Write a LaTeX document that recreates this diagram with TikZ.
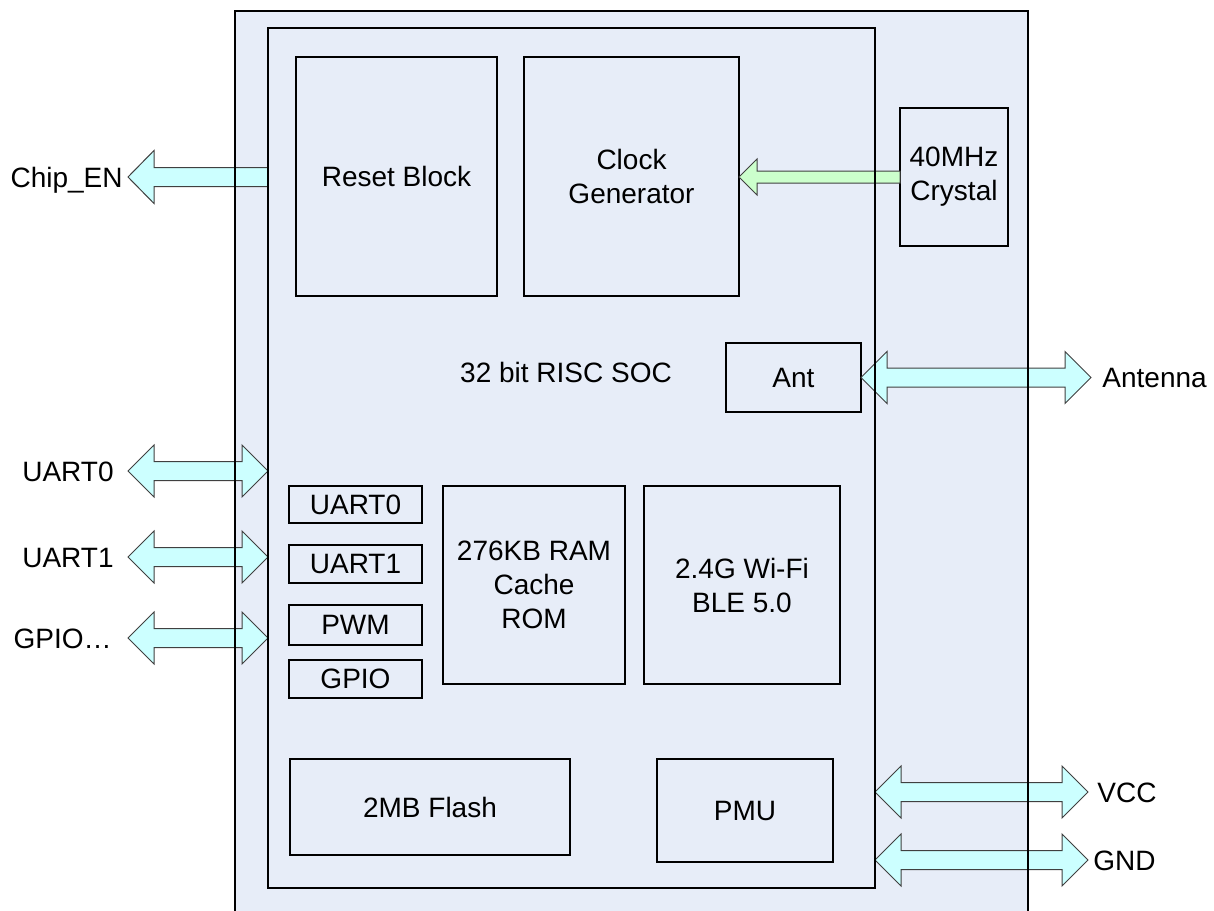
\documentclass[tikz,border=0pt]{standalone}
\usepackage{fontspec}
\setmainfont{Liberation Sans}
\usetikzlibrary{positioning,calc}
\definecolor{chipfill}{HTML}{E7EDF8}
\definecolor{busfill}{HTML}{CCFFFF}
\definecolor{clkfill}{HTML}{CCFFCC}

% horizontal block arrow with two heads: #1 left tip, #2 right tip
\newcommand{\dblarrow}[2]{%
  \path[busarrow] let \p1=(#1), \p2=(#2) in
    (\p1) -- (\x1+13pt,\y1+13pt) -- (\x1+13pt,\y1+4.75pt) -- (\x2-13pt,\y1+4.75pt)
    -- (\x2-13pt,\y1+13pt) -- (\x2,\y1) -- (\x2-13pt,\y1-13pt) -- (\x2-13pt,\y1-4.75pt)
    -- (\x1+13pt,\y1-4.75pt) -- (\x1+13pt,\y1-13pt) -- cycle;}
% block arrow pointing left: #1 style, #2 tip, #3 tail, #4 half shaft, #5 half head, #6 head length
\newcommand{\leftblkarrow}[6]{%
  \path[#1] let \p1=(#2), \p2=(#3) in
    (\p1) -- (\x1+#6,\y1+#5) -- (\x1+#6,\y1+#4) -- (\x2,\y1+#4)
    -- (\x2,\y1-#4) -- (\x1+#6,\y1-#4) -- (\x1+#6,\y1-#5) -- cycle;}

\begin{document}
\begin{tikzpicture}[x=0.5pt,y=-0.5pt,
  every node/.style={font=\fontsize{14}{17}\selectfont, align=center, inner sep=0pt},
  blk/.style 2 args={draw, line width=1.2pt, outer sep=0pt, minimum width=#1*0.5pt, minimum height=#2*0.5pt},
  pinlbl/.style={text height=10pt, text depth=0pt},
  busarrow/.style={draw=black!75, line width=0.5pt, fill=busfill},
  clkarrow/.style={draw=black!75, line width=0.5pt, fill=clkfill}]
  \useasboundingbox (0,0) rectangle (1214,910);
  \clip (0,0) rectangle (1214,910);

  % chip and SOC frames
  \node[blk={793}{930}, fill=chipfill, anchor=north west] (chip) at (235,11) {};
  \node[blk={607}{860}, fill=chipfill, anchor=north west] (soc) at (268,28) {};

  % blocks
  \node[blk={201}{239}] (reset) at (396.5,176.5) {Reset Block};
  \node[blk={215}{239}] (clock) at (631.5,176.5) {Clock\\Generator};
  \node[blk={108}{138}] (crystal) at (954,177) {40MHz\\Crystal};
  \node[blk={135}{69}] (ant) at (793.5,377.5) {Ant};
  \node (soclbl) at (566,372) {32 bit RISC SOC};
  \node[blk={133}{37}] (uarta) at (355.5,504.5) {UART0};
  \node[blk={133}{38}] (uartb) at (355.5,564) {UART1};
  \node[blk={133}{40}] (pwm) at (355.5,625) {PWM};
  \node[blk={133}{38}] (gpio) at (355.5,679) {GPIO};
  \node[blk={182}{198}] (ram) at (534,585) {276KB RAM\\Cache\\ROM};
  \node[blk={196}{198}] (wifi) at (742,585) {2.4G Wi-Fi\\BLE 5.0};
  \node[blk={280}{96}] (flash) at (430,807) {2MB Flash};
  \node[blk={176}{103}] (pmu) at (745,810.5) {PMU};

  % free ends of the pins
  \coordinate (enend) at (128,177);
  \coordinate (uaend) at (128,471);
  \coordinate (ubend) at (128,557);
  \coordinate (gpend) at (128,638);
  \coordinate (antend) at (1091,377.5);
  \coordinate (vccend) at (1088,792);
  \coordinate (gndend) at (1088,860);

  % arrows
  \leftblkarrow{busarrow}{enend}{soc.west |- enend}{4.75pt}{13.25pt}{13pt}
  \leftblkarrow{clkarrow}{clock.east |- crystal.west}{crystal.west}{3pt}{9pt}{9pt}
  \dblarrow{uaend}{soc.west |- uaend}
  \dblarrow{ubend}{soc.west |- ubend}
  \dblarrow{gpend}{soc.west |- gpend}
  \dblarrow{ant.east}{antend}
  \dblarrow{soc.east |- vccend}{vccend}
  \dblarrow{soc.east |- gndend}{gndend}

  % frame lines stay on top of the arrows
  \draw[line width=1.2pt] (chip.north west) rectangle (chip.south east);
  \draw[line width=1.2pt] (soc.north west) rectangle (soc.south east);

  % pin labels
  \node[pinlbl, left=2.5pt of enend] (lblen) {Chip\_EN};
  \node[pinlbl, left=7pt of uaend] (lblua) {UART0};
  \node[pinlbl, left=7pt of ubend] (lblub) {UART1};
  \node[pinlbl, left=8pt of gpend] (lblgp) {GPIO…};
  \node[pinlbl, right=5.5pt of antend] (lblant) {Antenna};
  \node[pinlbl, right=4.5pt of vccend] (lblvcc) {VCC};
  \node[pinlbl, right=2.5pt of gndend] (lblgnd) {GND};
\end{tikzpicture}
\end{document}
